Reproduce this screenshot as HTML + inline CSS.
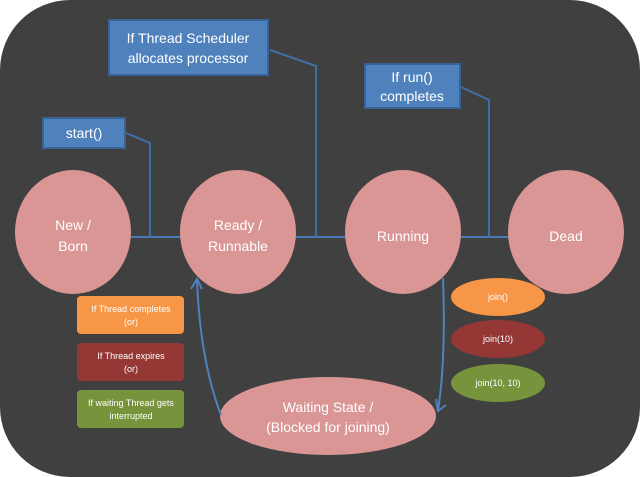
<!DOCTYPE html>
<html><head><meta charset="utf-8"><style>
html,body{margin:0;padding:0;background:#fff;}
svg{display:block;}
text{font-family:"Liberation Sans",sans-serif;fill:#fff;text-anchor:middle;}
</style></head><body>
<svg width="640" height="477" viewBox="0 0 640 477" xmlns="http://www.w3.org/2000/svg">
<rect x="0" y="0" width="640" height="477" rx="70" ry="70" fill="#404040"/>
<!-- main line -->
<line x1="131" y1="237" x2="510" y2="237" stroke="#4a7ab8" stroke-width="2"/>
<!-- callout lines -->
<polyline points="126,133 150,143 150,237" fill="none" stroke="#3f6fa8" stroke-width="2"/>
<polyline points="270,50 316,66 316,237" fill="none" stroke="#3f6fa8" stroke-width="2"/>
<polyline points="461,87 489,100 489,237" fill="none" stroke="#3f6fa8" stroke-width="2"/>
<!-- state circles -->
<ellipse cx="73" cy="232" rx="58" ry="62" fill="#d99694"/>
<ellipse cx="238" cy="232" rx="58" ry="62" fill="#d99694"/>
<ellipse cx="403" cy="232" rx="58" ry="62" fill="#d99694"/>
<ellipse cx="566" cy="232" rx="58" ry="62" fill="#d99694"/>
<text x="73" y="230" font-size="14">New /</text>
<text x="73" y="251" font-size="14">Born</text>
<text x="238" y="230" font-size="14">Ready /</text>
<text x="238" y="251" font-size="14">Runnable</text>
<text x="403" y="241" font-size="14">Running</text>
<text x="566" y="241" font-size="14">Dead</text>
<!-- top boxes -->
<rect x="43" y="118" width="82" height="30" fill="#4f81bd" stroke="#3a6294" stroke-width="2"/>
<text x="84" y="138" font-size="14">start()</text>
<rect x="109" y="20" width="159" height="55" fill="#4f81bd" stroke="#3a6294" stroke-width="2"/>
<text x="188" y="43" font-size="14">If Thread Scheduler</text>
<text x="188" y="63" font-size="14">allocates processor</text>
<rect x="365" y="64" width="95" height="44" fill="#4f81bd" stroke="#3a6294" stroke-width="2"/>
<text x="412" y="82" font-size="14">If run()</text>
<text x="412" y="101" font-size="14">completes</text>
<!-- legend boxes -->
<rect x="77" y="296" width="107" height="38" rx="4" fill="#f79646"/>
<text x="131" y="312" font-size="9">If Thread completes</text>
<text x="131" y="325" font-size="9">(or)</text>
<rect x="77" y="343" width="107" height="38" rx="4" fill="#953735"/>
<text x="131" y="359" font-size="9">If Thread expires</text>
<text x="131" y="372" font-size="9">(or)</text>
<rect x="77" y="390" width="107" height="38" rx="4" fill="#77933c"/>
<text x="131" y="406" font-size="9">If waiting Thread gets</text>
<text x="131" y="419" font-size="9">interrupted</text>
<!-- join ellipses -->
<ellipse cx="498" cy="297" rx="47" ry="19" fill="#f79646"/>
<text x="498" y="300" font-size="9">join()</text>
<ellipse cx="498" cy="339" rx="47" ry="19" fill="#953735"/>
<text x="498" y="342" font-size="9">join(10)</text>
<ellipse cx="498" cy="383" rx="47" ry="19" fill="#77933c"/>
<text x="498" y="386" font-size="9">join(10, 10)</text>
<!-- waiting -->
<ellipse cx="328" cy="416" rx="108" ry="39" fill="#d99694"/>
<text x="328" y="412" font-size="14">Waiting State /</text>
<text x="328" y="432" font-size="14">(Blocked for joining)</text>
<!-- arrows -->
<path d="M221,415 Q200,360 197,280" fill="none" stroke="#4f81bd" stroke-width="2"/>
<polyline points="191,289 197,279 202,289" fill="none" stroke="#4f81bd" stroke-width="2"/>
<path d="M443,278 Q446,360 438,410" fill="none" stroke="#4f81bd" stroke-width="2"/>
<polyline points="436,399 438,411 446,405" fill="none" stroke="#4f81bd" stroke-width="2"/>
</svg>
</body></html>
